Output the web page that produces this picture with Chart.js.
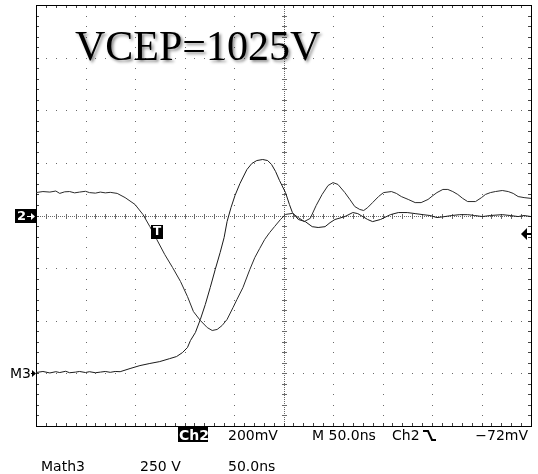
<!DOCTYPE html>
<html><head><meta charset="utf-8">
<script src="https://cdn.jsdelivr.net/npm/chart.js@4/dist/chart.umd.min.js"></script>
<style>html,body{margin:0;padding:0;background:#fff;overflow:hidden}canvas{display:block}</style>
</head><body>
<canvas id="c" width="538" height="474"></canvas>
<script>
// ---- data (time in ns from left edge of screen) ----
const ch2Time = [0,7,14,20,24,29,34,39,44,50,54,60,65,70,75,82,90,100,108,115,122,130,138,146,153,159,166,173,178,183,188,193,199,203,209,216,221,226,231,236,241,247,252,259,265,271,277,283,289,295,300,305,312,317,322,327,331,335,340,346,351,359,364,369,376,383,389,396,401,405,411,416,421,426,431,436,444,450,454,459,464,471,477,482,487,493,500];
const ch2MilliVolts = [87,91,89,93,84,90,91,86,89,92,87,85,89,86,88,84,68,42,4,-42,-91,-148,-198,-251,-308,-365,-399,-426,-437,-433,-418,-395,-350,-319,-274,-205,-160,-125,-91,-65,-42,-15,4,8,-8,-23,-11,38,80,114,125,118,87,61,34,23,19,30,49,72,87,91,84,72,61,49,49,61,76,87,99,99,91,80,65,53,53,68,80,87,91,95,91,84,72,68,65];
const m3Time = [0,7,14,20,24,30,34,40,44,50,54,60,65,70,75,80,85,95,105,115,125,135,142,148,153,156,161,166,171,176,181,186,190,193,197,201,206,213,218,223,229,234,238,242,246,252,256,259,265,272,279,285,292,297,302,312,320,325,330,335,340,348,358,366,375,383,391,398,405,413,420,428,436,443,451,459,471,479,487,493,500];
const m3Volts = [4,9,2,8,4,10,3,6,9,4,8,3,6,9,5,9,8,23,37,47,56,70,80,99,123,156,194,256,327,408,493,574,645,721,788,845,902,968,997,1011,1016,1011,992,959,916,859,802,764,731,721,697,693,697,716,731,745,764,759,745,731,721,731,754,764,764,759,754,750,740,745,750,754,754,750,745,750,754,750,745,750,745];
const titleText = 'VCEP=1025V';
const statusLine1 = ['Ch2', '200mV', 'M 50.0ns', 'Ch2', '\u221272mV'];
const statusLine2 = ['Math3', '250 V', '50.0ns'];
const timePerDiv = 50;      // ns
const ch2PerDiv = 200;      // mV
const m3PerDiv = 250;       // V
const triggerLevel = -72;   // mV
const triggerTime = 122;    // ns

const scopeGrid = {
  id: 'scopeGrid',
  beforeDatasetsDraw(chart) {
    const {ctx, chartArea: a, scales} = chart;
    const xs = scales.x, ys = scales.y;
    const xDiv = [], yDiv = [];
    for (let i = 0; i <= 10; i++) xDiv.push(xs.getPixelForValue(i * timePerDiv));
    for (let j = 0; j <= 8; j++) yDiv.push(ys.getPixelForValue(-4 * ch2PerDiv + j * ch2PerDiv));
    const dx = (xDiv[1] - xDiv[0]) / 5, dy = (yDiv[0] - yDiv[1]) / 5;
    ctx.save();
    ctx.fillStyle = '#6a6a6a';
    for (let i = 1; i < 10; i++) {
      if (i === 5) continue;
      const x = Math.round(xDiv[i]);
      for (let k = 0; k <= 40; k++) ctx.fillRect(x, Math.round(a.bottom - k * dy), 1, 1);
    }
    for (let j = 1; j < 8; j++) {
      if (j === 4) continue;
      const y = Math.round(yDiv[j]);
      for (let k = 0; k <= 50; k++) ctx.fillRect(Math.round(a.left + k * dx), y, 1, 1);
    }
    const cx = Math.round(xDiv[5]), cy = Math.round(yDiv[4]);
    for (let y = a.top; y <= a.bottom; y += 2) ctx.fillRect(cx, Math.round(y), 1, 1);
    for (let x = a.left; x <= a.right; x += 2) ctx.fillRect(Math.round(x), cy, 1, 1);
    for (let k = 0; k <= 40; k++) { const y = Math.round(a.bottom - k * dy); ctx.fillRect(cx - 2, y, 5, 1); }
    for (let k = 0; k <= 50; k++) { const x = Math.round(a.left + k * dx); ctx.fillRect(x, cy - 2, 1, 5); }
    // border ticks
    ctx.fillStyle = '#444';
    for (let k = 0; k <= 50; k++) {
      const x = Math.round(a.left + k * dx);
      ctx.fillRect(x, Math.round(a.top), 1, 3);
      ctx.fillRect(x, Math.round(a.bottom) - 3, 1, 3);
    }
    for (let k = 0; k <= 40; k++) {
      const y = Math.round(a.bottom - k * dy);
      ctx.fillRect(Math.round(a.left), y, 3, 1);
      ctx.fillRect(Math.round(a.right) - 3, y, 3, 1);
    }
    ctx.strokeStyle = '#000';
    ctx.lineWidth = 1;
    ctx.strokeRect(Math.round(a.left) + 0.5, Math.round(a.top) + 0.5, Math.round(a.right - a.left), Math.round(a.bottom - a.top));
    ctx.restore();
  },
  afterDraw(chart) {
    const {ctx, chartArea: a, scales} = chart;
    const xs = scales.x, ys = scales.y, y2 = scales.y2;
    ctx.save();
    // title
    ctx.font = '42px "Liberation Serif", "Times New Roman", serif';
    ctx.textBaseline = 'alphabetic';
    ctx.shadowColor = 'rgba(0,0,0,0.45)';
    ctx.shadowOffsetX = 2; ctx.shadowOffsetY = 2; ctx.shadowBlur = 3;
    ctx.fillStyle = '#000';
    ctx.fillText(titleText, 75, 60);
    ctx.shadowColor = 'transparent';
    // Ch2 ground marker
    const g2 = Math.round(ys.getPixelForValue(0));
    ctx.fillStyle = '#000';
    ctx.fillRect(15, g2 - 7, 21, 14);
    ctx.fillStyle = '#fff';
    ctx.font = 'bold 13px "DejaVu Sans", sans-serif';
    ctx.textBaseline = 'middle';
    ctx.fillText('2', 17, g2 + 1);
    ctx.fillRect(27, g2, 6, 1);
    ctx.beginPath(); ctx.moveTo(35, g2 + 0.5); ctx.lineTo(31, g2 - 3); ctx.lineTo(31, g2 + 4); ctx.closePath(); ctx.fill();
    // M3 ground marker
    const g3 = Math.round(y2.getPixelForValue(0));
    ctx.fillStyle = '#000';
    ctx.font = '14px "DejaVu Sans", sans-serif';
    ctx.fillText('M3', 10, g3 + 1);
    ctx.fillRect(31, g3, 4, 1);
    ctx.beginPath(); ctx.moveTo(36, g3 + 0.5); ctx.lineTo(32, g3 - 3); ctx.lineTo(32, g3 + 4); ctx.closePath(); ctx.fill();
    // trigger position marker
    const tx = Math.round(xs.getPixelForValue(triggerTime));
    const tl = Math.round(ys.getPixelForValue(triggerLevel));
    ctx.fillRect(tx - 6, tl - 9, 12, 14);
    ctx.fillStyle = '#fff';
    ctx.font = 'bold 12px "DejaVu Sans", sans-serif';
    ctx.textAlign = 'center';
    ctx.fillText('T', tx, tl - 2);
    ctx.textAlign = 'left';
    // trigger level arrow on right
    ctx.fillStyle = '#000';
    const rx = Math.round(a.right);
    ctx.beginPath(); ctx.moveTo(rx - 10, tl); ctx.lineTo(rx - 4, tl - 6); ctx.lineTo(rx - 4, tl + 6); ctx.closePath(); ctx.fill();
    ctx.fillRect(rx - 5, tl - 1, 5, 2);
    // status lines
    ctx.textBaseline = 'alphabetic';
    ctx.font = '14px "DejaVu Sans", sans-serif';
    ctx.fillRect(178, 427, 30, 15);
    ctx.fillStyle = '#fff';
    ctx.font = 'bold 14px "DejaVu Sans", sans-serif';
    ctx.fillText(statusLine1[0], 179, 440);
    ctx.fillStyle = '#000';
    ctx.font = '14px "DejaVu Sans", sans-serif';
    ctx.fillText(statusLine1[1], 228, 440);
    ctx.fillText(statusLine1[2], 312, 440);
    ctx.fillText(statusLine1[3], 392, 440);
    ctx.lineWidth = 2;
    ctx.beginPath(); ctx.moveTo(423, 431); ctx.lineTo(428, 431); ctx.lineTo(432, 440); ctx.lineTo(436, 440); ctx.stroke();
    ctx.textAlign = 'right';
    ctx.fillText(statusLine1[4], 528, 440);
    ctx.textAlign = 'left';
    ctx.fillText(statusLine2[0], 41, 471);
    ctx.fillText(statusLine2[1], 140, 471);
    ctx.fillText(statusLine2[2], 228, 471);
    ctx.restore();
  }
};

new Chart(document.getElementById('c'), {
  type: 'line',
  data: {
    datasets: [
      { label: 'Ch2', data: ch2Time.map((t, i) => ({x: t, y: ch2MilliVolts[i]})), yAxisID: 'y',
        borderColor: '#2a2a2a', borderWidth: 1, pointRadius: 0, tension: 0, fill: false },
      { label: 'Math3', data: m3Time.map((t, i) => ({x: t, y: m3Volts[i]})), yAxisID: 'y2',
        borderColor: '#1a1a1a', borderWidth: 1, pointRadius: 0, tension: 0, fill: false }
    ]
  },
  options: {
    responsive: false, animation: false, devicePixelRatio: 1,
    layout: { padding: { left: 36, right: 7, top: 5, bottom: 48 } },
    plugins: { legend: { display: false }, tooltip: { enabled: false }, title: { display: false } },
    scales: {
      x: { type: 'linear', display: false, min: 0, max: 10 * timePerDiv },
      y: { type: 'linear', display: false, min: -4 * ch2PerDiv, max: 4 * ch2PerDiv },
      y2: { type: 'linear', display: false, min: -1 * m3PerDiv, max: 7 * m3PerDiv }
    }
  },
  plugins: [scopeGrid]
});
</script>
</body></html>
